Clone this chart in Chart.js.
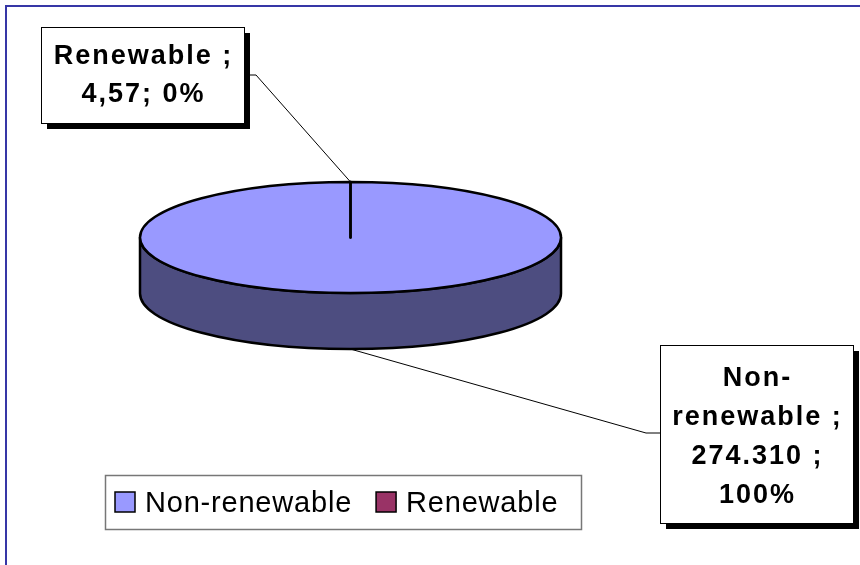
<!DOCTYPE html>
<html>
<head>
<meta charset="utf-8">
<title>Energy sources</title>
<script src="https://cdn.jsdelivr.net/npm/chart.js@4.4.1/dist/chart.umd.min.js"></script>
<style>
    html, body { margin: 0; padding: 0; background: #fff; }
    #chart-container { position: relative; width: 860px; height: 565px; }
</style>
</head>
<body>
<div id="chart-container"><canvas id="energyChart" width="860" height="565"></canvas></div>
<script>
const categories = ['Non-renewable', 'Renewable'];
const values = [274310, 4.57];
const topColors = ['#9999FF', '#993366'];
const sideColors = ['#4D4D80', '#4D1A33'];

const tilt = 0.264;   // vertical squash of the pie top
const depth = 56;     // height of the pie wall
const fontFamily = '"Liberation Sans", Arial, sans-serif';

function formatValue(v) {
    return v.toLocaleString('de-DE', { maximumFractionDigits: 2 });
}

// callout boxes, one per category index
const callouts = [
    {
        index: 0, x: 660, y: 345, w: 193, h: 178, firstBaseline: 386, lineHeight: 39,
        elbow: [646, 433], edge: [660, 433],
        lines: (label, val, pct) => {
            const parts = label.split(/(?<=-)/);
            const last = parts.pop();
            return [...parts, last + ' ;', val + ' ;', pct + '%'];
        }
    },
    {
        index: 1, x: 41, y: 27, w: 203, h: 96, firstBaseline: 64, lineHeight: 38,
        elbow: [256, 75], edge: [250, 75],
        lines: (label, val, pct) => [label + ' ;', val + '; ' + pct + '%']
    }
];

function arcGeometry(chart) {
    const meta = chart.getDatasetMeta(0);
    return meta.data.map(arc => arc.getProps(['x', 'y', 'startAngle', 'endAngle', 'outerRadius'], true));
}

// parts of an arc that face the viewer (lower half of the ellipse)
function frontSpans(a0, a1) {
    const spans = [];
    for (let k = -1; k <= 1; k++) {
        const s = Math.max(a0 + k * 2 * Math.PI, 0);
        const e = Math.min(a1 + k * 2 * Math.PI, Math.PI);
        if (e > s) spans.push([s, e]);
    }
    return spans;
}

function drawFrame(ctx) {
    ctx.save();
    ctx.strokeStyle = '#3636A6';
    ctx.lineWidth = 2;
    ctx.beginPath();
    ctx.moveTo(6, 565);
    ctx.lineTo(6, 6);
    ctx.lineTo(860, 6);
    ctx.stroke();
    ctx.restore();
}

function drawPie(chart) {
    const ctx = chart.ctx;
    const arcs = arcGeometry(chart);
    ctx.save();
    ctx.lineWidth = 2.5;
    ctx.strokeStyle = '#000';
    ctx.lineJoin = 'round';

    // wall
    arcs.forEach((a, i) => {
        const rx = a.outerRadius, ry = a.outerRadius * tilt;
        frontSpans(a.startAngle, a.endAngle).forEach(([s, e]) => {
            ctx.beginPath();
            ctx.ellipse(a.x, a.y, rx, ry, 0, s, e);
            ctx.lineTo(a.x + rx * Math.cos(e), a.y + depth + ry * Math.sin(e));
            ctx.ellipse(a.x, a.y + depth, rx, ry, 0, e, s, true);
            ctx.closePath();
            ctx.fillStyle = sideColors[i];
            ctx.fill();
            ctx.stroke();
        });
    });

    // top face
    arcs.forEach((a, i) => {
        const rx = a.outerRadius, ry = a.outerRadius * tilt;
        ctx.beginPath();
        ctx.moveTo(a.x, a.y);
        ctx.ellipse(a.x, a.y, rx, ry, 0, a.startAngle, a.endAngle);
        ctx.closePath();
        ctx.fillStyle = topColors[i];
        ctx.fill();
        ctx.stroke();
    });
    ctx.restore();
}

function drawCallouts(chart) {
    const ctx = chart.ctx;
    const arcs = arcGeometry(chart);
    const total = values.reduce((s, v) => s + v, 0);

    ctx.save();
    callouts.forEach(c => {
        const a = arcs[c.index];
        const mid = (a.startAngle + a.endAngle) / 2;
        const ry = a.outerRadius * tilt;
        let ax = a.x + a.outerRadius * Math.cos(mid);
        let ay = a.y + ry * Math.sin(mid);
        if (Math.sin(mid) > 0) ay += depth;

        // leader line
        ctx.strokeStyle = '#000';
        ctx.lineWidth = 1;
        ctx.beginPath();
        ctx.moveTo(ax, ay);
        ctx.lineTo(c.elbow[0], c.elbow[1]);
        ctx.lineTo(c.edge[0], c.edge[1]);
        ctx.stroke();

        // box with drop shadow
        ctx.fillStyle = '#000';
        ctx.fillRect(c.x + 6, c.y + 6, c.w, c.h);
        ctx.fillStyle = '#fff';
        ctx.fillRect(c.x, c.y, c.w, c.h);
        ctx.strokeRect(c.x + 0.5, c.y + 0.5, c.w, c.h);

        const pct = Math.round(values[c.index] / total * 100);
        const lines = c.lines(categories[c.index], formatValue(values[c.index]), pct);
        ctx.fillStyle = '#000';
        ctx.font = 'bold 27px ' + fontFamily;
        ctx.letterSpacing = '2px';
        ctx.textAlign = 'center';
        ctx.textBaseline = 'alphabetic';
        lines.forEach((t, j) => {
            ctx.fillText(t, c.x + c.w / 2 + 1, c.firstBaseline + j * c.lineHeight);
        });
    });
    ctx.restore();
}

function drawLegend(chart) {
    const ctx = chart.ctx;
    ctx.save();
    ctx.strokeStyle = '#777';
    ctx.lineWidth = 1.5;
    ctx.strokeRect(105.5, 475.5, 476, 54);

    ctx.font = '29px ' + fontFamily;
    ctx.letterSpacing = '0.8px';
    ctx.textAlign = 'left';
    ctx.textBaseline = 'alphabetic';
    let x = 115;
    chart.data.labels.forEach((label, i) => {
        ctx.fillStyle = chart.data.datasets[0].backgroundColor[i];
        ctx.fillRect(x, 492, 20, 20);
        ctx.strokeStyle = '#000';
        ctx.lineWidth = 1.5;
        ctx.strokeRect(x, 492, 20, 20);
        ctx.fillStyle = '#000';
        ctx.fillText(label, x + 30, 512);
        x += 30 + ctx.measureText(label).width + 24;
    });
    ctx.restore();
}

const pie3d = {
    id: 'pie3d',
    beforeDraw(chart) {
        drawFrame(chart.ctx);
    },
    beforeDatasetsDraw(chart) {
        drawPie(chart);
        return false;
    },
    afterDraw(chart) {
        drawCallouts(chart);
        drawLegend(chart);
    }
};

const ctx = document.getElementById('energyChart').getContext('2d');
const chart = new Chart(ctx, {
    type: 'pie',
    data: {
        labels: categories,
        datasets: [{
            data: values,
            backgroundColor: topColors,
            borderWidth: 0
        }]
    },
    options: {
        responsive: false,
        animation: false,
        layout: { padding: { left: 140, right: 299, top: 27, bottom: 117 } },
        plugins: {
            legend: { display: false },
            tooltip: { enabled: false }
        }
    },
    plugins: [pie3d]
});
</script>
</body>
</html>
